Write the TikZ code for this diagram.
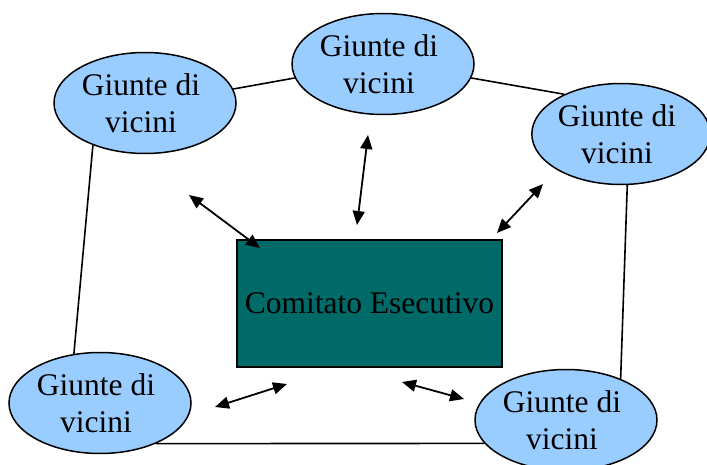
\documentclass[tikz,border=0pt]{standalone}
\usepackage{fontspec}
\setmainfont{Liberation Serif}
\usetikzlibrary{shapes.geometric,arrows.meta}
\definecolor{giunta}{RGB}{153,204,255}
\definecolor{comitato}{RGB}{0,106,104}
\newcommand{\giuntetext}{Giunte di\hspace*{8pt}\\vicini\hspace*{8pt}}
\tikzset{
  giuntabox/.style={ellipse,draw=black,line width=1.5pt,fill=giunta,inner sep=0pt,
    minimum width=182pt,minimum height=101pt,align=center,
    font=\fontsize{31.5}{37.5}\selectfont},
  comitatobox/.style={rectangle,draw=black,line width=1.2pt,fill=comitato,inner sep=0pt,
    minimum width=265pt,minimum height=127pt,font=\fontsize{31.5}{37.5}\selectfont},
  link/.style={draw=black,line width=1.6pt},
  biarrow/.style={line width=1.8pt,{Triangle[length=14pt,width=12pt]}-{Triangle[length=14pt,width=12pt]}}
}
\begin{document}
\begin{tikzpicture}[x=1pt,y=-1pt]
\useasboundingbox (0,0) rectangle (707,465);
\node[giuntabox] (tl) at (145,103) {\giuntetext};
\node[giuntabox] (tc) at (383,64) {\giuntetext};
\node[giuntabox,minimum width=176pt] (r) at (621,134) {\giuntetext};
\node[giuntabox] (bl) at (100,403) {\giuntetext};
\node[giuntabox] (br) at (566,420) {\giuntetext};
\node[comitatobox] (ce) at (369.5,303.5) {Comitato Esecutivo};
\draw[link] (tl.9) -- (tc.189);
\draw[link] (tc.-9) -- (r.145);
\draw[link] (r.-83) -- (br.37);
\draw[link] (tl.219) -- (bl.118);
\draw[link] (bl.-36) -- (br.196);
\coordinate (a1s) at (189,195); \coordinate (a1e) at (260,248);
\coordinate (a2s) at (368,135); \coordinate (a2e) at (357,225);
\coordinate (a3s) at (543,184); \coordinate (a3e) at (497,233);
\coordinate (a4s) at (215,407); \coordinate (a4e) at (287,384);
\coordinate (a5s) at (402,382); \coordinate (a5e) at (464,399);
\draw[biarrow] (a1s) -- (a1e);
\draw[biarrow] (a2s) -- (a2e);
\draw[biarrow] (a3s) -- (a3e);
\draw[biarrow] (a4s) -- (a4e);
\draw[biarrow] (a5s) -- (a5e);
\end{tikzpicture}
\end{document}
